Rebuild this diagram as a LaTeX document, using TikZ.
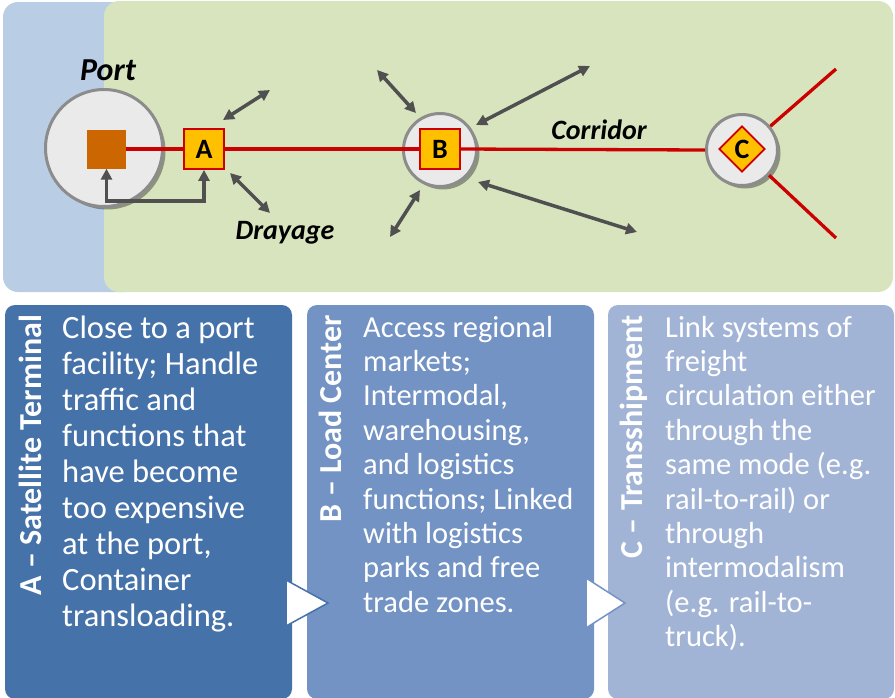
\documentclass[tikz,border=0pt]{standalone}
\usepackage{fontspec}
\setmainfont{Carlito}
\usetikzlibrary{arrows.meta,shadows,shapes.geometric}
\definecolor{topblue}{HTML}{B9CDE5}
\definecolor{topgreen}{HTML}{D7E4BD}
\definecolor{redline}{HTML}{CC0000}
\definecolor{gold}{HTML}{FFC000}
\definecolor{portorange}{HTML}{CC6600}
\definecolor{ringgray}{HTML}{8C8C8C}
\definecolor{ringfill}{HTML}{EAEAEA}
\definecolor{arrowgray}{HTML}{505050}
\definecolor{panelA}{HTML}{4672AA}
\definecolor{panelB}{HTML}{7393C4}
\definecolor{panelC}{HTML}{A2B4D6}
\tikzset{
  nodebox/.style={draw=redline, fill=gold, line width=1.8pt, minimum size=40pt, inner sep=0pt, font=\bfseries\fontsize{28}{30}\selectfont},
  hub/.style={circle, draw=ringgray, fill=ringfill, line width=3pt, inner sep=0pt,
    drop shadow={shadow xshift=3pt, shadow yshift=-3pt, opacity=0.35, fill=black}},
  rail/.style={draw=redline, line width=3.3pt},
  flow/.style={draw=arrowgray, line width=3.5pt, {Triangle[length=11pt,width=11pt]}-{Triangle[length=11pt,width=11pt]}},
  bodytext/.style={anchor=north west, align=left, inner sep=0pt, text=white},
  vtitle/.style={rotate=90, anchor=base east, inner sep=0pt, text=white, font=\bfseries\fontsize{32}{36}\selectfont},
  lbl/.style={inner sep=0pt, font=\bfseries\itshape\fontsize{28}{30}\selectfont}
}
\begin{document}
\begin{tikzpicture}[x=1pt,y=-1pt]
\useasboundingbox (0,0) rectangle (895,697);
% backgrounds
\fill[topblue, rounded corners=15pt] (3,2) rectangle (140,292);
\fill[topgreen, rounded corners=15pt] (104,1) rectangle (893,292);
% hubs
\node[hub, minimum size=117pt] (port) at (104,148) {};
\node[hub, minimum size=73pt] (bhub) at (440,150) {};
\node[hub, minimum size=71pt] (chub) at (742,150) {};
% nodes
\node[fill=portorange, minimum size=39pt, inner sep=0pt] (sq) at (106.5,149) {};
\node[nodebox] (A) at (204,149) {A};
\node[nodebox] (B) at (440,149) {B};
\draw[rail] (sq.east) -- (A.west);
\draw[rail] (A.east) -- (B.west);
\draw[rail] (B.east) -- (chub.west);
\node[nodebox] at (A) {A};
\node[nodebox] at (B) {B};
\node[diamond, draw=redline, fill=gold, line width=1.8pt, minimum width=46pt, minimum height=46pt, inner sep=0pt, font=\bfseries\fontsize{28}{30}\selectfont] (C) at (742,149) {C};
% branches from C
\coordinate (c1) at (836,69);
\coordinate (c2) at (836,238);
\draw[rail] (chub.40) -- (c1);
\draw[rail] (chub.-43) -- (c2);
% drayage loop
\coordinate (dr) at (204,201);
\draw[flow] (sq.south) -- (sq.south |- dr) -- (dr) -- (A.south);
% arrows
\coordinate (a1s) at (223,120); \coordinate (a1e) at (270,90);
\coordinate (a2s) at (230,173); \coordinate (a2e) at (270,213);
\coordinate (b1s) at (377,70);  \coordinate (b1e) at (416,113);
\coordinate (b2s) at (390,237); \coordinate (b2e) at (420,190);
\coordinate (b3s) at (476,125); \coordinate (b3e) at (590,66);
\coordinate (b4s) at (478,182); \coordinate (b4e) at (637,232);
\draw[flow] (a1s) -- (a1e);
\draw[flow] (a2s) -- (a2e);
\draw[flow] (b1s) -- (b1e);
\draw[flow] (b2s) -- (b2e);
\draw[flow] (b3s) -- (b3e);
\draw[flow] (b4s) -- (b4e);
% labels
\node[lbl, font=\bfseries\itshape\fontsize{32}{34}\selectfont] (portlbl) at (108,70) {Port};
\node[lbl] (drylbl) at (285,233) {Drayage};
\node[lbl] (corlbl) at (599,130) {Corridor};
% panels
\fill[panelA, rounded corners=10pt] (5,305) rectangle (292,699);
\fill[panelB, rounded corners=10pt] (307,305) rectangle (594,699);
\fill[panelC, rounded corners=10pt] (608,305) rectangle (894,699);
\filldraw[fill=white, draw=panelA, line width=1.5pt] (286,580) -- (328,603) -- (286,626) -- cycle;
\filldraw[fill=white, draw=panelB, line width=1.5pt] (586,578) -- (625,603) -- (586,628) -- cycle;
% titles
\node[vtitle] (tA) at (41,315) {A – Satellite Terminal};
\node[vtitle] (tB) at (341,315) {B – Load Center};
\node[vtitle] (tC) at (642,315) {C – Transshipment};
% bodies
\node[bodytext, font=\fontsize{32.5}{36}\selectfont] (bA) at (62,312.8) {\strut Close to a port\\facility; Handle\\traffic and\\functions that\\have become\\too expensive\\at the port,\\Container\\transloading.};
\node[bodytext, font=\fontsize{30.5}{34.4}\selectfont] (bB) at (363,312.9) {\strut Access regional\\markets;\\Intermodal,\\warehousing,\\and logistics\\functions; Linked\\with logistics\\parks and free\\trade zones.};
\node[bodytext, font=\fontsize{30.5}{34.4}\selectfont] (bC) at (665,312.9) {\strut Link systems of\\freight\\circulation either\\through the\\same mode (e.g.\\rail-to-rail) or\\through\\intermodalism\\(e.g. rail-to-\\truck).};
\end{tikzpicture}
\end{document}
